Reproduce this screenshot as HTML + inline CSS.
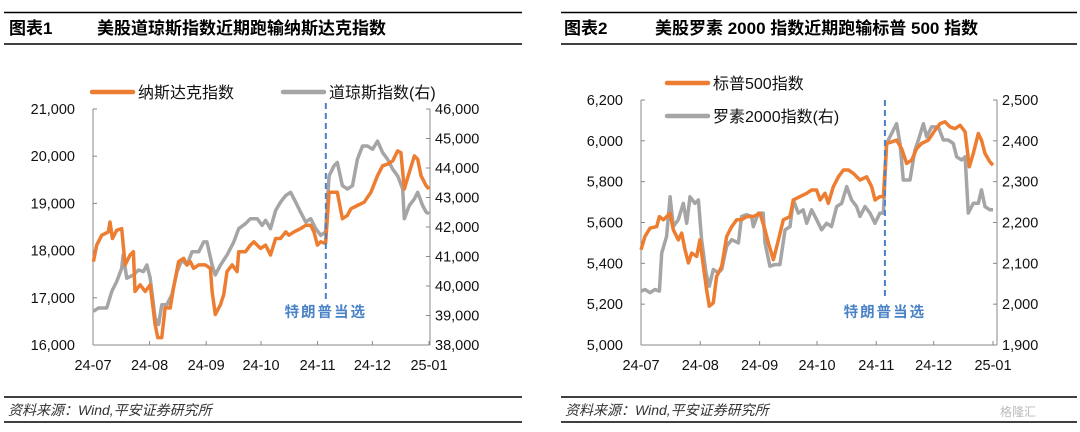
<!DOCTYPE html>
<html><head><meta charset="utf-8"><style>
body{margin:0;background:#fff;width:1080px;height:427px;overflow:hidden;font-family:"Liberation Sans","Noto Sans CJK SC",sans-serif;}
svg text{font-family:"Liberation Sans","Noto Sans CJK SC",sans-serif;}
</style></head><body>
<svg id="root" width="1080" height="427" viewBox="0 0 1080 427">
<g>
<line x1="4" y1="12.5" x2="522" y2="12.5" stroke="#000" stroke-width="1.5"/>
<line x1="4" y1="44" x2="522" y2="44" stroke="#000" stroke-width="1.5"/>
<text x="9" y="34" font-size="17" font-weight="bold">图表1</text>
<text x="97" y="34" font-size="17" font-weight="bold">美股道琼斯指数近期跑输纳斯达克指数</text>
</g>
<g>
<line x1="561" y1="12.5" x2="1077" y2="12.5" stroke="#000" stroke-width="1.5"/>
<line x1="561" y1="44" x2="1077" y2="44" stroke="#000" stroke-width="1.5"/>
<text x="564" y="34" font-size="17" font-weight="bold">图表2</text>
<text x="655" y="34" font-size="17" font-weight="bold">美股罗素 2000 指数近期跑输标普 500 指数</text>
</g>
<g>
<line x1="4" y1="397" x2="522" y2="397" stroke="#000" stroke-width="1.5"/>
<line x1="4" y1="422" x2="522" y2="422" stroke="#000" stroke-width="1.5"/>
<text x="8" y="415" font-size="14" font-style="italic" fill="#333">资料来源：Wind,平安证券研究所</text>
</g>
<g>
<line x1="561" y1="397" x2="1077" y2="397" stroke="#000" stroke-width="1.5"/>
<line x1="561" y1="422" x2="1077" y2="422" stroke="#000" stroke-width="1.5"/>
<text x="565" y="415" font-size="14" font-style="italic" fill="#333">资料来源：Wind,平安证券研究所</text>
<text x="1000" y="416" font-size="12" fill="#bbb">格隆汇</text>
</g>
<g id="c1"></g>
<g id="c2"></g>
</svg>
<script>
const monthLabels = ["24-07","24-08","24-09","24-10","24-11","24-12","25-01"];
const monthDays = [0,31,62,92,123,153,184];
const electionDay = 127.5;

const ndqDays = [0.2,2,4.8,8.4,9.3,10.6,13,15.7,17.6,20.3,22.1,23,25.8,28.6,31.3,34,35.5,37.7,39.5,42.3,44.1,46.9,49.6,51.5,53.3,55.1,57.9,61.5,64.3,65.2,67,69.8,71.6,73.4,76.2,78.9,79.8,83.5,86.2,88.1,91.7,94.5,97.2,100,102.7,105.5,107.3,110,113.7,116.5,119.2,121,122.9,124.7,127.4,129.3,132,133.8,136.6,139.3,141.2,144.8,148.5,152.2,155.8,158.6,161.3,164.1,166.8,168.6,170.5,173.2,176,177.8,179.6,182.4,184];
const ndqValues = [17766,18116,18326,18396,18606,18256,18431,18466,17696,17906,17976,17136,17276,17136,17276,16436,16156,16156,16786,16786,17206,17766,17836,17696,17766,17626,17696,17696,17626,17136,16646,16856,17066,17556,17696,17556,17976,17976,18116,18186,18046,18116,17906,18256,18256,18396,18326,18396,18466,18536,18536,18396,18116,18186,18150,19236,19236,19236,18676,18746,18886,18956,19026,19236,19586,19796,19831,19901,20111,20076,19306,19656,20006,19936,19586,19376,19306];

const dowDays = [0.2,3,7.5,10.3,13,15.7,16.5,18.5,22.1,24.9,27.6,29.5,31.3,34,35.9,37.7,40.4,43.2,46,48.7,51.5,54.2,57.9,60.6,62.4,65.2,67,69.8,73.4,77.1,79.8,83.5,86.2,89.9,92.6,94.5,97.2,100,102.7,105.5,108.2,111,113.7,116.5,119.2,122,124.7,127.4,129.3,132,133.8,136.6,139.3,142.1,144.8,147.6,150.3,153.1,155.8,158.6,161.3,164.1,166.8,169.6,170.5,173.2,176,177.8,180.5,182.4,184];
const dowValues = [39143,39255,39255,39816,40152,40600,41048,40264,40376,40544,40488,40712,40264,38919,38695,39367,39367,39704,40488,40880,40712,41160,41160,41496,41496,40712,40376,40712,41048,41496,41944,42112,42280,42280,42056,42224,41944,42561,42841,43065,43177,42841,42505,42168,42280,41944,41720,41832,43737,44073,44185,43401,43289,43401,44297,44745,44745,44633,44913,44521,44297,43961,43737,43289,42280,42729,42953,43177,42729,42505,42449];

const spxDays = [0,2.1,4.7,8.2,9.6,11.7,15.2,16.9,19.5,21.3,23,24.8,26.5,29.1,30.8,32.6,34.3,35.7,37.8,39.5,42.2,44.8,47.4,50,52.6,55.2,58.7,62.2,64.8,66.6,69.2,71.8,74.4,77.9,79.6,83.1,86.6,89.2,91.8,93.6,96.2,97.9,100.5,103.2,105.8,108.4,111,114.5,118,120.6,122.3,124.9,126.7,128.4,131,133.6,136.2,138.9,141.5,144.1,146.7,150.2,153.7,156.3,158.9,161.5,164.1,166.8,169.4,171.6,173.7,176.3,178,179.8,182.4,184];
const spxValues = [5467,5532,5572,5580,5629,5613,5645,5564,5515,5548,5467,5402,5450,5434,5515,5385,5271,5190,5206,5336,5385,5532,5580,5613,5613,5629,5629,5645,5564,5499,5418,5515,5613,5629,5710,5727,5743,5759,5759,5710,5743,5694,5775,5824,5857,5857,5841,5808,5824,5775,5710,5727,5727,5987,5995,6003,5962,5889,5906,5962,5987,6003,6052,6084,6093,6068,6060,6076,6044,5873,5938,6036,6003,5938,5897,5881];

const rutDays = [0,2.1,4.7,7.3,9.6,10.8,13.4,15.2,16.9,19.5,22.1,23.9,25.6,28.2,30,31.7,34,35.7,37.8,40.4,42.2,44.8,47.4,50.9,52.6,55.2,57.8,58.7,61.3,63.9,64.8,67.4,70,72.6,75.3,77.9,79.6,82.2,84.8,86.6,89.2,91.8,94.4,97,99.6,102.3,104.9,107.5,110.1,112.7,114.5,117.1,119.7,122.3,124.9,126.7,128.4,131,133.6,135.4,137.1,140.6,143.2,145,147.6,149.3,151.9,155.4,158,160.6,163.2,165,167.6,169.4,171.1,173.7,176.3,178,179.8,182.4,184];
const rutValues = [2032,2036,2028,2036,2032,2125,2166,2263,2190,2207,2247,2198,2263,2247,2255,2158,2077,2044,2085,2077,2085,2142,2158,2150,2215,2219,2215,2190,2223,2223,2150,2093,2097,2097,2182,2190,2255,2223,2231,2198,2231,2207,2182,2198,2190,2239,2247,2288,2255,2239,2215,2239,2223,2198,2223,2223,2394,2418,2442,2394,2304,2304,2377,2402,2442,2410,2434,2434,2402,2402,2394,2361,2353,2361,2223,2247,2247,2280,2239,2231,2231];

const ticks1L = [16000,17000,18000,19000,20000,21000];
const ticks1R = [38000,39000,40000,41000,42000,43000,44000,45000,46000];
const ticks2L = [5000,5200,5400,5600,5800,6000,6200];
const ticks2R = [1900,2000,2100,2200,2300,2400,2500];

const NS="http://www.w3.org/2000/svg";
function mk(parent,tag,attrs){const e=document.createElementNS(NS,tag);for(const k in attrs)e.setAttribute(k,attrs[k]);parent.appendChild(e);return e;}
const fmt=v=>v.toLocaleString('en-US');

function drawChart(g,cfg){
  const {x0,x1,xEnd,yTop,yBot,lTicks,rTicks,series,vline,legend,prefix}=cfg;
  const xs=d=>x0+(x1-x0)*d/184;
  const yl=v=>yBot-(yBot-yTop)*(v-lTicks[0])/(lTicks[lTicks.length-1]-lTicks[0]);
  const yr=v=>yBot-(yBot-yTop)*(v-rTicks[0])/(rTicks[rTicks.length-1]-rTicks[0]);
  const ax=mk(g,'g',{});
  
  
  mk(ax,'line',{x1:x0,y1:yTop,x2:x0,y2:yBot,stroke:'#888','stroke-width':1});
  mk(ax,'line',{x1:xEnd,y1:yTop,x2:xEnd,y2:yBot,stroke:'#888','stroke-width':1});
  mk(ax,'line',{x1:x0,y1:yBot,x2:xEnd,y2:yBot,stroke:'#888','stroke-width':1});
  lTicks.forEach(v=>{
    mk(ax,'line',{x1:x0,y1:yl(v),x2:x0+4,y2:yl(v),stroke:'#888'});
    const t=mk(ax,'text',{x:x0-18,y:yl(v)+5,'font-size':14.5,'text-anchor':'end',fill:'#111'});
    t.textContent=fmt(v);
    
    
  });
  rTicks.forEach(v=>{
    mk(ax,'line',{x1:xEnd,y1:yr(v),x2:xEnd-4,y2:yr(v),stroke:'#888'});
    const t=mk(ax,'text',{x:xEnd+5,y:yr(v)+5,'font-size':14.5,fill:'#111'});
    t.textContent=fmt(v);
    
    
  });
  monthDays.forEach((d,i)=>{
    mk(ax,'line',{x1:xs(d),y1:yBot,x2:xs(d),y2:yBot-4,stroke:'#888'});
    const t=mk(ax,'text',{x:xs(d),y:yBot+25,'font-size':14.5,'text-anchor':'middle',fill:'#111'});
    t.textContent=monthLabels[i];
    
    
  });
  series.forEach(s=>{
    const sc=s.axis==='r'?yr:yl;
    const pts=s.days.map((d,i)=>xs(d).toFixed(1)+','+sc(s.values[i]).toFixed(1)).join(' ');
    const p=mk(g,'polyline',{points:pts,fill:'none',stroke:s.color,'stroke-width':3.5,'stroke-linejoin':'round'});
    
    
  });
  const vx=xs(electionDay);
  const vl=mk(g,'line',{x1:vx,y1:vline.y1,x2:vx,y2:vline.y2,stroke:'#4a82c8','stroke-width':2,'stroke-dasharray':'6,4'});
  
  
  const lt=mk(g,'text',{x:vx,y:vline.ty,'font-size':14.5,'font-weight':'bold','text-anchor':'middle',fill:'#4a82c8','letter-spacing':'2'});
  lt.textContent='特朗普当选';
  
  
  legend.forEach(l=>{
    const lg=mk(g,'g',{});
    
    
    mk(lg,'line',{x1:l.x,y1:l.y,x2:l.x+41,y2:l.y,stroke:l.color,'stroke-width':4.5,'stroke-linecap':'round'});
    const t=mk(lg,'text',{x:l.x+46,y:l.y+6,'font-size':16,fill:'#111'});
    t.textContent=l.text;
  });
}

drawChart(document.getElementById('c1'),{prefix:'chart1',x0:93,x1:429,xEnd:430,yTop:109,yBot:345,lTicks:ticks1L,rTicks:ticks1R,
  series:[{name:'dow-line',days:dowDays,values:dowValues,color:'#a5a5a5',axis:'r'},{name:'nasdaq-line',days:ndqDays,values:ndqValues,color:'#ed7d31',axis:'l'}],
  vline:{y1:103,y2:300,ty:317},
  legend:[{x:92,y:92,color:'#ed7d31',text:'纳斯达克指数'},{x:283,y:92,color:'#a5a5a5',text:'道琼斯指数(右)'}]});
drawChart(document.getElementById('c2'),{prefix:'chart2',x0:641,x1:993,xEnd:997,yTop:100,yBot:345,lTicks:ticks2L,rTicks:ticks2R,
  series:[{name:'russell2000-line',days:rutDays,values:rutValues,color:'#a5a5a5',axis:'r'},{name:'sp500-line',days:spxDays,values:spxValues,color:'#ed7d31',axis:'l'}],
  vline:{y1:100,y2:298,ty:317},
  legend:[{x:667,y:83,color:'#ed7d31',text:'标普500指数'},{x:667,y:116,color:'#a5a5a5',text:'罗素2000指数(右)'}]});
</script>
</body></html>
